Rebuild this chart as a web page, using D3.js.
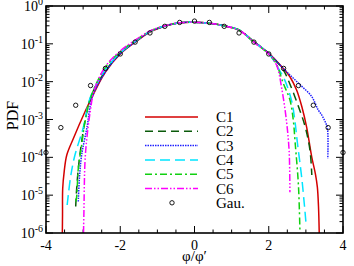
<!DOCTYPE html>
<html>
<head>
<meta charset="utf-8">
<script src="https://cdn.jsdelivr.net/npm/d3@7"></script>
<style>
  body { margin: 0; background: #fff; }
  text { font-family: "Liberation Serif", "DejaVu Serif", serif; fill: #000; }
</style>
</head>
<body>
<script>
// PDF curves, [x, pdf] pairs
const c1 = [[-3.56, 1e-6], [-3.555, 3e-6], [-3.55, 1.5e-5], [-3.51, 4.2e-5], [-3.44, 1.15e-4], [-3.26, 3.2e-4],
    [-2.95, 1.6e-3], [-2.73, 4.5e-3], [-2.4, 0.018], [-2.0, 0.054], [-1.6, 0.11], [-1.2, 0.205], [-0.8, 0.29],
    [-0.4, 0.36], [0, 0.37], [0.4, 0.35], [0.8, 0.3], [1.2, 0.23], [1.6, 0.114], [2.0, 0.056], [2.39, 0.0224],
    [2.57, 0.0135], [2.75, 6e-3], [2.89, 2.2e-3], [3.02, 6.3e-4], [3.16, 1e-4], [3.26, 3.5e-5], [3.31, 1.6e-5],
    [3.34, 5e-6], [3.36, 1e-6]];
const c2 = [[-3.2, 5e-6], [-3.18, 1.2e-5], [-3.13, 5e-5], [-3.05, 2.2e-4], [-2.95, 9e-4], [-2.77, 4.5e-3],
    [-2.4, 0.019], [-2.0, 0.056], [-1.6, 0.114], [-1.2, 0.21], [-0.8, 0.295], [-0.4, 0.36], [0, 0.37], [0.4, 0.35],
    [0.8, 0.3], [1.2, 0.232], [1.6, 0.114], [2.0, 0.056], [2.39, 0.0204], [2.56, 9.1e-3], [2.8, 2.2e-3],
    [2.98, 6.5e-4], [3.11, 1.55e-4], [3.16, 3.4e-5]];
const c3 = [[-3.13, 6.8e-6], [-3.1, 2.8e-5], [-3.04, 1.15e-4], [-2.9, 5.9e-4], [-2.75, 4e-3], [-2.4, 0.018],
    [-2.0, 0.055], [-1.6, 0.112], [-1.2, 0.207], [-0.8, 0.295], [-0.4, 0.36], [0, 0.37], [0.4, 0.35], [0.8, 0.3],
    [1.2, 0.232], [1.6, 0.114], [2.0, 0.056], [2.39, 0.0224], [2.8, 9.1e-3], [3.16, 4e-3], [3.33, 1.8e-3],
    [3.43, 1.3e-3], [3.52, 8.7e-4], [3.58, 5.9e-4], [3.59, 9.3e-5]];
const c4 = [[-3.43, 5.5e-6], [-3.4, 1e-5], [-3.33, 3.4e-5], [-3.22, 1.15e-4], [-3.0, 5.9e-4], [-2.8, 4e-3],
    [-2.4, 0.021], [-2.0, 0.058], [-1.6, 0.116], [-1.2, 0.21], [-0.8, 0.295], [-0.4, 0.36], [0, 0.37], [0.4, 0.35],
    [0.8, 0.3], [1.2, 0.232], [1.6, 0.112], [2.0, 0.055], [2.26, 0.0224], [2.44, 0.0105], [2.62, 3e-3],
    [2.7, 1e-3], [2.77, 2.5e-4], [2.89, 2.8e-5], [2.96, 5.5e-6], [3.0, 2e-6]];
const c5 = [[-3.19, 6.8e-6], [-3.17, 1e-5], [-3.13, 5.1e-5], [-3.04, 2.1e-4], [-2.95, 8.7e-4], [-2.77, 4.5e-3],
    [-2.4, 0.024], [-2.0, 0.062], [-1.6, 0.12], [-1.2, 0.215], [-0.8, 0.3], [-0.4, 0.36], [0, 0.37], [0.4, 0.35],
    [0.8, 0.3], [1.2, 0.232], [1.6, 0.11], [2.0, 0.054], [2.2, 0.03], [2.39, 9.1e-3], [2.57, 3.3e-3],
    [2.66, 9.8e-4], [2.71, 2.5e-4], [2.8, 1.8e-5], [2.84, 1.1e-6]];
const c6 = [[-2.99, 1e-6], [-2.98, 3e-6], [-2.95, 7.6e-5], [-2.9, 3.2e-4], [-2.81, 1.6e-3], [-2.7, 6e-3],
    [-2.4, 0.025], [-2.0, 0.065], [-1.6, 0.125], [-1.2, 0.22], [-0.8, 0.3], [-0.4, 0.36], [0, 0.37], [0.4, 0.35],
    [0.8, 0.3], [1.2, 0.23], [1.6, 0.11], [2.0, 0.054], [2.21, 0.0275], [2.35, 6.6e-3], [2.48, 8.7e-4],
    [2.55, 1.4e-4], [2.57, 1.2e-5]];

// Gaussian reference points
const gauX = [-4, -3.6, -3.2, -2.8, -2.4, -2.0, -1.6, -1.2, -0.8, -0.4, 0, 0.4, 0.8, 1.2, 1.6, 2.0, 2.4, 2.8, 3.2, 3.6, 4];
const gauY = [1.34e-4, 6.1e-4, 2.38e-3, 7.9e-3, 0.0224, 0.054, 0.111, 0.194, 0.29, 0.368, 0.399, 0.368, 0.29,
    0.194, 0.111, 0.054, 0.0224, 7.9e-3, 2.38e-3, 6.1e-4, 1.34e-4];

const names = ['C1', 'C2', 'C3', 'C4', 'C5', 'C6'];
const xTicks = [-4, -2, 0, 2, 4];
const yTicks = [1e-6, 1e-5, 1e-4, 1e-3, 1e-2, 1e-1, 1];

const series = [c1, c2, c3, c4, c5, c6];
const colors = ['#d40000', '#0a5a0a', '#2020ff', '#00e5ff', '#10d010', '#ff00ff'];
const dashes = [null, '8,5', '1.5,1', '10,5', '7,3,2,3', '7,2,1.5,2,1.5,2'];

const width = 354;
const height = 266;
const margin = {top: 6, right: 11, bottom: 33, left: 46};
const w = width - margin.left - margin.right;
const h = height - margin.top - margin.bottom;

const svg = d3.select('body').append('svg')
    .attr('width', width)
    .attr('height', height);

const g = svg.append('g')
    .attr('transform', 'translate(' + margin.left + ',' + margin.top + ')');

const x = d3.scaleLinear().domain([-4, 4]).range([0, w]);
const y = d3.scaleLog().domain([1e-6, 1]).range([h, 0]);

g.append('clipPath').attr('id', 'clip')
    .append('rect').attr('width', w).attr('height', h);

// minor log ticks
const minor = [];
yTicks.slice(0, -1).forEach(t => {
    for (let k = 2; k < 10; k++) minor.push(t * k);
});

const ax = g.append('g').attr('stroke', '#000').attr('stroke-width', 1);

// left / right ticks
[0, w].forEach((x0, i) => {
    const dir = i === 0 ? 1 : -1;
    ax.selectAll(null).data(yTicks).enter().append('line')
        .attr('x1', x0).attr('x2', x0 + dir * 7)
        .attr('y1', d => y(d)).attr('y2', d => y(d));
    ax.selectAll(null).data(minor).enter().append('line')
        .attr('x1', x0).attr('x2', x0 + dir * 3.5)
        .attr('y1', d => y(d)).attr('y2', d => y(d));
});

// bottom / top ticks
const xMinor = d3.range(-3.5, 4, 0.5).filter(v => !xTicks.includes(v));
[h, 0].forEach((y0, i) => {
    const dir = i === 0 ? -1 : 1;
    ax.selectAll(null).data(xTicks).enter().append('line')
        .attr('y1', y0).attr('y2', y0 + dir * 7)
        .attr('x1', d => x(d)).attr('x2', d => x(d));
    ax.selectAll(null).data(xMinor).enter().append('line')
        .attr('y1', y0).attr('y2', y0 + dir * 3.5)
        .attr('x1', d => x(d)).attr('x2', d => x(d));
});

const line = d3.line()
    .x(d => x(d[0]))
    .y(d => y(d[1]))
    .curve(d3.curveMonotoneY);

const plot = g.append('g').attr('clip-path', 'url(#clip)');

plot.selectAll('path.curve')
    .data(series)
    .enter()
    .append('path')
    .attr('class', 'curve')
    .attr('fill', 'none')
    .attr('stroke', (d, i) => colors[i])
    .attr('stroke-width', 1.5)
    .attr('stroke-dasharray', (d, i) => dashes[i])
    .attr('d', d => d3.line().x(p => x(p[0])).y(p => y(p[1])).curve(d3.curveCatmullRom)(d));

g.selectAll('circle.gau')
    .data(gauX)
    .enter()
    .append('circle')
    .attr('class', 'gau')
    .attr('cx', d => x(d))
    .attr('cy', (d, i) => y(gauY[i]))
    .attr('r', 2.2)
    .attr('fill', 'none')
    .attr('stroke', '#000')
    .attr('stroke-width', 0.9);

// frame
g.append('rect')
    .attr('width', w).attr('height', h)
    .attr('fill', 'none').attr('stroke', '#000').attr('stroke-width', 1.6);

// tick labels
g.selectAll('text.xt')
    .data(xTicks)
    .enter()
    .append('text')
    .attr('class', 'xt')
    .attr('x', d => x(d))
    .attr('y', h + 17)
    .attr('text-anchor', 'middle')
    .attr('font-size', 14)
    .text(d => d < 0 ? '-' + Math.abs(d) : d);

const yt = g.selectAll('text.yt')
    .data(yTicks)
    .enter()
    .append('text')
    .attr('class', 'yt')
    .attr('x', -3)
    .attr('y', d => y(d) + 5)
    .attr('text-anchor', 'end')
    .attr('font-size', 14);
yt.append('tspan').text('10');
yt.append('tspan')
    .attr('dy', -6)
    .attr('font-size', 10)
    .text(d => Math.round(Math.log10(d)));

// axis titles
svg.append('text')
    .attr('x', margin.left + x(0))
    .attr('y', 261)
    .attr('text-anchor', 'middle')
    .attr('font-size', 15)
    .text('\u03c6/\u03c6\u2032');

svg.append('text')
    .attr('transform', 'translate(18,' + (margin.top + h / 2 - 4) + ') rotate(-90)')
    .attr('text-anchor', 'middle')
    .attr('font-size', 16)
    .text('PDF');

// legend
const lg = svg.append('g').attr('transform', 'translate(145,117)');
const rowH = 14.3;

names.forEach((n, i) => {
    lg.append('line')
        .attr('x1', 0).attr('x2', 53)
        .attr('y1', i * rowH).attr('y2', i * rowH)
        .attr('stroke', colors[i])
        .attr('stroke-width', 1.5)
        .attr('stroke-dasharray', dashes[i]);
    lg.append('text')
        .attr('x', 71)
        .attr('y', i * rowH + 5)
        .attr('font-size', 15)
        .text(n);
});

lg.append('circle')
    .attr('cx', 27).attr('cy', 6 * rowH)
    .attr('r', 2.2)
    .attr('fill', 'none')
    .attr('stroke', '#000')
    .attr('stroke-width', 0.9);
lg.append('text')
    .attr('x', 71)
    .attr('y', 6 * rowH + 5)
    .attr('font-size', 15)
    .text('Gau.');
</script>
</body>
</html>
